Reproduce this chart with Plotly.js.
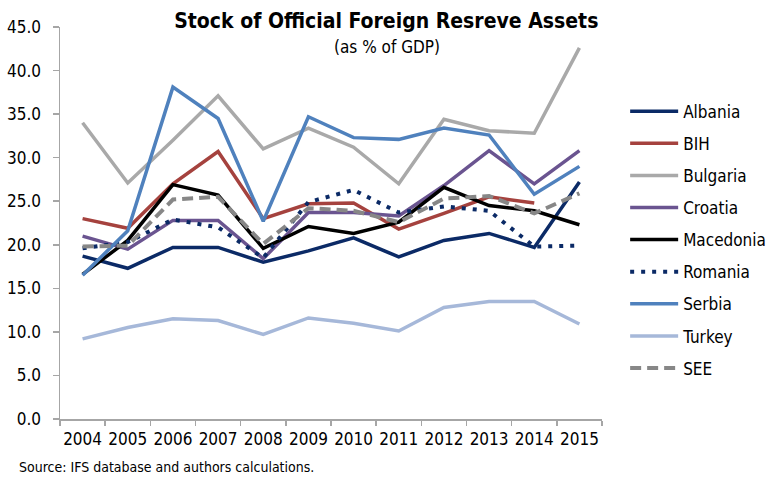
<!DOCTYPE html>
<html>
<head>
<meta charset="utf-8">
<script src="https://cdn.plot.ly/plotly-3.0.1.min.js"></script>
<style>html,body{margin:0;padding:0;background:#fff;}#chart{width:768px;height:480px;}</style>
</head>
<body>
<div id="chart"></div>
<script>
var years = ['2004','2005','2006','2007','2008','2009','2010','2011','2012','2013','2014','2015'];
var albania   = [18.7, 17.3, 19.7, 19.7, 18.0, 19.3, 20.8, 18.6, 20.5, 21.3, 19.7, 27.2];
var bih       = [23.0, 21.9, 27.0, 30.7, 23.0, 24.7, 24.8, 21.8, 23.6, 25.5, 24.8, null];
var bulgaria  = [34.0, 27.1, 32.0, 37.1, 31.0, 33.4, 31.2, 27.0, 34.4, 33.1, 32.8, 42.6];
var croatia   = [21.0, 19.5, 22.8, 22.8, 18.4, 23.7, 23.7, 23.3, 26.8, 30.8, 27.0, 30.8];
var macedonia = [16.6, 20.5, 26.9, 25.7, 19.6, 22.1, 21.3, 22.6, 26.6, 24.5, 23.9, 22.3];
var romania   = [19.6, 20.3, 22.9, 22.0, 18.5, 24.9, 26.3, 23.7, 24.4, 23.9, 19.8, 19.9];
var serbia    = [16.5, 21.6, 38.1, 34.5, 22.7, 34.7, 32.3, 32.1, 33.4, 32.6, 25.8, 29.0];
var turkey    = [9.2, 10.5, 11.5, 11.3, 9.7, 11.6, 11.0, 10.1, 12.8, 13.5, 13.5, 10.9];
var see       = [19.8, 19.9, 25.2, 25.5, 20.1, 24.2, 23.9, 22.6, 25.3, 25.6, 23.6, 25.9];
var yTicks = [0, 5, 10, 15, 20, 25, 30, 35, 40, 45];

var FONT = '"DejaVu Sans Condensed", "DejaVu Sans", sans-serif';

function mk(name, y, color, dash, width) {
  return {
    x: years, y: y, name: name, type: 'scatter', mode: 'lines',
    legendgroup: name,
    line: {color: color, width: width || 3.5, dash: dash || 'solid'},
    connectgaps: false, hoverinfo: 'skip'
  };
}

var traces = [
  mk('Albania', albania, '#0B2A66'),
  mk('BIH', bih, '#A5423E'),
  mk('Bulgaria', bulgaria, '#A9A9A9'),
  mk('Croatia', croatia, '#6A5490'),
  mk('Macedonia', macedonia, '#000000'),
  mk('Romania', romania, '#0B2A66', '4px,7px', 4),
  mk('Serbia', serbia, '#4F81BD'),
  mk('Turkey', turkey, '#A6B8D9'),
  mk('SEE', see, '#878787', '11px,6px', 4)
];

var layout = {
  width: 768, height: 480,
  margin: {l: 60, r: 166, t: 27, b: 61, autoexpand: false},
  paper_bgcolor: '#fff', plot_bgcolor: '#fff',
  font: {family: FONT, size: 17, color: '#000'},
  showlegend: true,
  title: {
    text: 'Stock of Official Foreign Resreve Assets',
    font: {family: FONT, size: 21, color: '#000', weight: 'bold'},
    x: 0.503, xanchor: 'center', y: 0.958, yanchor: 'middle'
  },
  xaxis: {
    type: 'category',
    tickvals: years,
    tickangle: 0,
    showgrid: false, zeroline: false,
    showline: true, linecolor: '#A6A6A6', linewidth: 1.5,
    ticks: 'outside', tickson: 'boundaries', ticklen: 5, tickcolor: '#A6A6A6', tickwidth: 1.5,
    tickfont: {family: FONT, size: 17, color: '#000'},
    ticklabelstandoff: 4,
    range: [-0.5, 11.5], fixedrange: true
  },
  yaxis: {
    range: [0, 45],
    tickvals: yTicks,
    tickformat: '.1f',
    showgrid: false, zeroline: false,
    showline: true, linecolor: '#A6A6A6', linewidth: 1.5,
    ticks: 'outside', ticklen: 6, tickcolor: '#A6A6A6', tickwidth: 1.5,
    tickfont: {family: FONT, size: 17, color: '#000'},
    ticklabelstandoff: 8,
    fixedrange: true
  },
  legend: {
    xref: 'container', x: 0.814, xanchor: 'left', y: 0.83, yanchor: 'top',
    font: {family: FONT, size: 17, color: '#000'},
    tracegroupgap: 7,
    itemwidth: 48,
    bgcolor: 'rgba(0,0,0,0)'
  },
  annotations: [
    {text: '(as % of GDP)', xref: 'paper', yref: 'paper', x: 0.603, y: 1.0,
     xanchor: 'center', yanchor: 'middle', showarrow: false,
     font: {family: FONT, size: 17, color: '#000'}, yshift: -20},
    {text: 'Source: IFS database and authors calculations.', xref: 'paper', yref: 'paper',
     x: -0.0793, y: 0, xanchor: 'left', yanchor: 'middle', showarrow: false,
     font: {family: FONT, size: 14, color: '#000'}, yshift: -48}
  ]
};

Plotly.newPlot('chart', traces, layout, {staticPlot: true, displayModeBar: false});
</script>
</body>
</html>
